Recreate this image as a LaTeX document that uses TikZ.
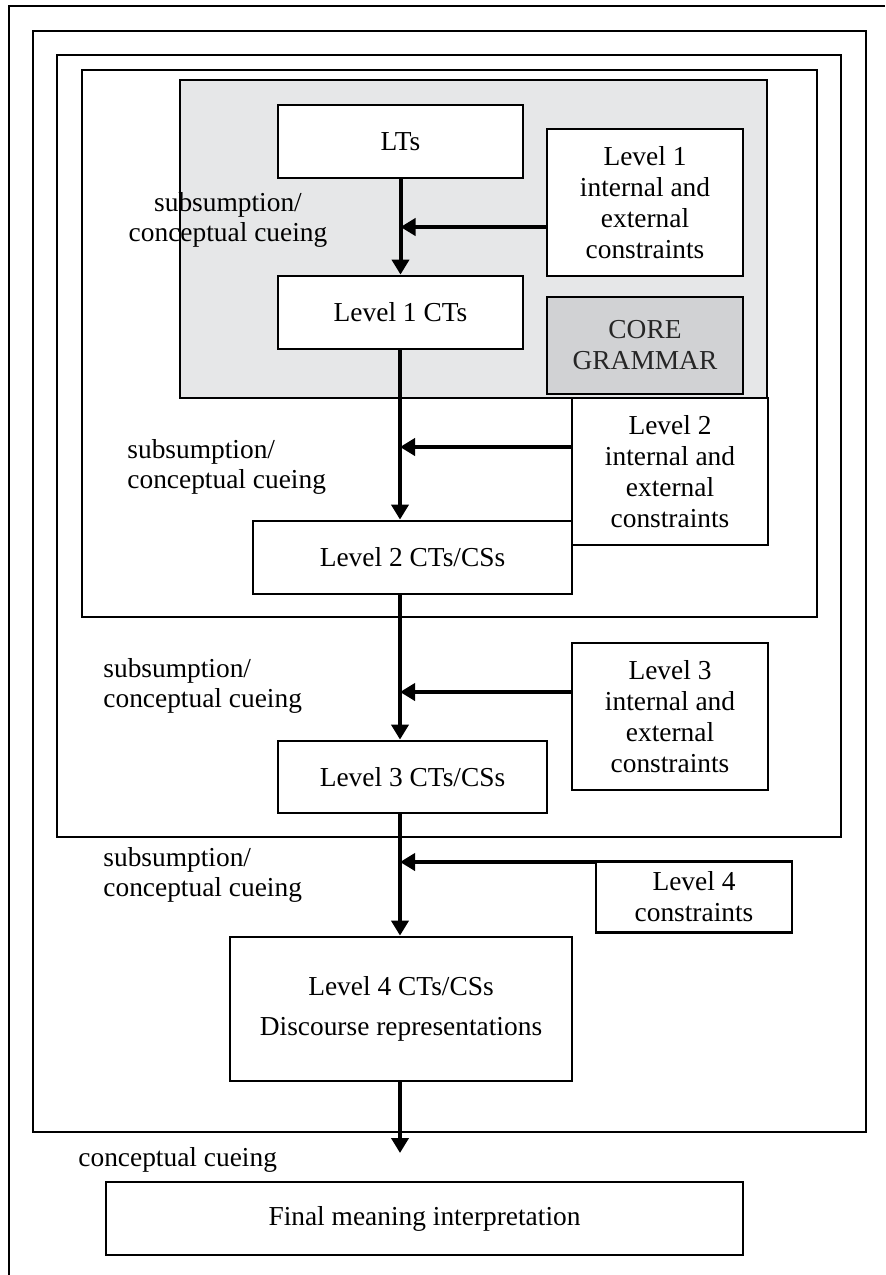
\documentclass[tikz,border=0pt]{standalone}
\usepackage{fontspec}
\setmainfont{Liberation Serif}
\usetikzlibrary{arrows.meta,calc}
\definecolor{grayfill}{HTML}{E6E7E8}
\definecolor{corefill}{HTML}{D1D2D4}
\begin{document}
\begin{tikzpicture}[x=0.5pt,y=-0.5pt,
  frame/.style={line width=1.25pt},
  box/.style={draw, line width=1.4pt, fill=white, inner sep=0pt, align=center,
    font=\fontsize{13.7pt}{15.5pt}\selectfont},
  lbl/.style={inner sep=0pt, font=\fontsize{13.7pt}{15pt}\selectfont},
  flow/.style={line width=2pt, -{Triangle[length=7.5pt,width=8.5pt]}}
]
\useasboundingbox (0,0) rectangle (885,1275);
% nested frames
\draw[frame] (9,1275) -- (9,6) -- (885,6);
\draw[frame] (33,31) rectangle (866,1132);
\draw[frame] (57,55) rectangle (841,837);
\draw[frame] (82,70) rectangle (817,617);
% core grammar area
\node[box, fill=grayfill, minimum width=293.5pt, minimum height=159pt] (gray) at (473.5,239) {};
% boxes
\node[box, minimum width=122.5pt, minimum height=36.5pt] (lts) at (400.5,141.5) {LTs};
\node[box, minimum width=122.5pt, minimum height=36.5pt] (l1ct) at (400.5,312.5) {Level 1 CTs};
\node[box, minimum width=98pt, minimum height=73.5pt] (l1c) at (645,202.5) {Level 1\\internal and\\external\\constraints};
\node[box, fill=corefill, minimum width=98pt, minimum height=48.5pt, text=black!85] (core) at (645,345.5) {CORE\\GRAMMAR};
\node[box, minimum width=98pt, minimum height=73.5pt] (l2c) at (670,471.5) {Level 2\\internal and\\external\\constraints};
\node[box, minimum width=159.5pt, minimum height=36.5pt] (l2ct) at (412.5,557.5) {Level 2 CTs/CSs};
\node[box, minimum width=98pt, minimum height=73.5pt] (l3c) at (670,716.5) {Level 3\\internal and\\external\\constraints};
\node[box, minimum width=134.5pt, minimum height=36pt] (l3ct) at (412.5,777) {Level 3 CTs/CSs};
\node[box, minimum width=98pt, minimum height=35.5pt] (l4c) at (694,897) {Level 4\\constraints};
\node[box, minimum width=171pt, minimum height=72pt, font=\fontsize{13.7pt}{20pt}\selectfont] (l4ct) at (401,1009) {Level 4 CTs/CSs\\Discourse representations};
\node[box, minimum width=318.5pt, minimum height=36.5pt] (final) at (424.5,1218.5) {Final meaning interpretation};
% labels
\node[lbl, align=center] (lab1) at (228,220) {subsumption/\\conceptual cueing};
\node[lbl, align=left, anchor=west] (lab2) at (127,467) {subsumption/\\conceptual cueing};
\node[lbl, align=left, anchor=west] (lab3) at (103,686) {subsumption/\\conceptual cueing};
\node[lbl, align=left, anchor=west] (lab4) at (103,875) {subsumption/\\conceptual cueing};
\node[lbl, anchor=west] (lab5) at (78,1160) {conceptual cueing};
% spine coordinates
\coordinate (axis) at (400,0);
\coordinate (endpt) at (400,1153);
% connectors
\draw[flow] (lts.south) -- (l1ct.north);
\draw[flow] ([yshift=-12.25pt]l1c.west) -- ([yshift=-12.25pt]l1c.west -| lts.south);
\draw[flow] (axis |- l1ct.south) -- (axis |- l2ct.north);
\draw[flow] ([yshift=12.25pt]l2c.west) -- ([yshift=12.25pt]l2c.west -| axis);
\draw[flow] (axis |- l2ct.south) -- (axis |- l3ct.north);
\draw[flow] ([yshift=12.25pt]l3c.west) -- ([yshift=12.25pt]l3c.west -| axis);
\draw[flow] (axis |- l3ct.south) -- (axis |- l4ct.north);
\draw[flow] ([yshift=17.5pt]l4c.west) -- ([yshift=17.5pt]l4c.west -| axis);
\draw[flow] (axis |- l4ct.south) -- (endpt);
\end{tikzpicture}
\end{document}
